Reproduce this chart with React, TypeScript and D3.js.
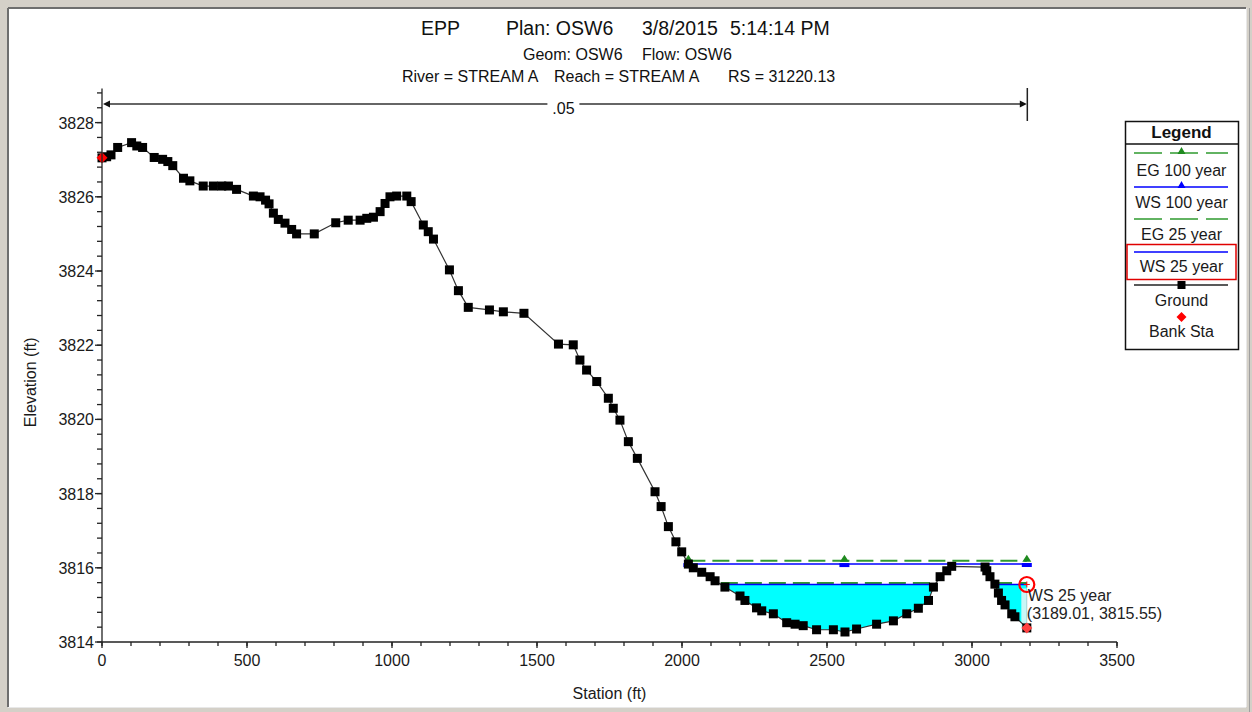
import React from 'react';
import * as d3 from 'd3';

// ---------- data ----------
const titleMain = ['EPP', 'Plan: OSW6', '3/8/2015', '5:14:14 PM'];
const titleSub = ['Geom: OSW6', 'Flow: OSW6'];
const titleRiver = ['River = STREAM A', 'Reach = STREAM A', 'RS = 31220.13'];
const manningLabel = '.05';

// ground profile: [station (ft), elevation (ft)]
const groundPoints: [number, number][] = [
  [0, 3827.05], [16, 3827.08], [31, 3827.13], [54, 3827.33], [102, 3827.46],
  [120, 3827.37], [140, 3827.33], [180, 3827.06], [209, 3827.01], [227, 3826.95],
  [244, 3826.84], [281, 3826.5], [303, 3826.43], [349, 3826.29], [384, 3826.29],
  [413, 3826.29], [436, 3826.29], [464, 3826.2], [522, 3826.02], [545, 3826.0],
  [564, 3825.91], [576, 3825.81], [591, 3825.56], [608, 3825.39], [631, 3825.29],
  [654, 3825.12], [671, 3825.0], [732, 3825.0], [806, 3825.3], [849, 3825.37],
  [890, 3825.37], [913, 3825.42], [936, 3825.45], [959, 3825.6], [976, 3825.82],
  [993, 3826.0], [1016, 3826.02], [1051, 3826.02], [1066, 3825.87], [1108, 3825.24],
  [1125, 3825.06], [1143, 3824.86], [1198, 3824.03], [1229, 3823.47], [1263, 3823.02],
  [1336, 3822.95], [1384, 3822.9], [1455, 3822.86], [1574, 3822.03], [1625, 3822.01],
  [1648, 3821.6], [1671, 3821.33], [1706, 3821.02], [1746, 3820.57], [1763, 3820.3],
  [1786, 3819.98], [1815, 3819.4], [1846, 3818.95], [1907, 3818.05], [1928, 3817.65],
  [1953, 3817.11], [1979, 3816.7], [1999, 3816.43], [2022, 3816.1], [2039, 3816.0],
  [2068, 3815.88], [2097, 3815.76], [2114, 3815.65], [2148, 3815.48], [2200, 3815.24],
  [2217, 3815.12], [2257, 3814.92], [2275, 3814.84], [2315, 3814.76], [2361, 3814.52],
  [2390, 3814.48], [2418, 3814.44], [2464, 3814.33], [2522, 3814.33], [2562, 3814.27],
  [2602, 3814.35], [2671, 3814.48], [2729, 3814.57], [2775, 3814.76], [2815, 3814.91],
  [2850, 3815.12], [2867, 3815.48], [2890, 3815.76], [2913, 3815.92], [2930, 3816.04],
  [3045, 3816.02], [3051, 3815.92], [3062, 3815.76], [3079, 3815.56], [3091, 3815.32],
  [3102, 3815.12], [3114, 3815.0], [3137, 3814.76], [3148, 3814.68], [3189.01, 3814.38],
];

const bankStations: [number, number][] = [[0, 3827.05], [3189.01, 3814.38]];

const wsLevels = { ws100: 3816.1, eg100: 3816.19, ws25: 3815.55, eg25: 3815.59 };
const profileMarkerStations = [2560];

const selectedPoint: [number, number] = [3189.01, 3815.55];
const selectedLabel = 'WS 25 year';

const xTicks = [0, 500, 1000, 1500, 2000, 2500, 3000, 3500];
const yTicks = [3814, 3816, 3818, 3820, 3822, 3824, 3826, 3828];
const xTitle = 'Station (ft)';
const yTitle = 'Elevation (ft)';

const legendLabels = ['EG 100 year', 'WS 100 year', 'EG 25 year', 'WS 25 year', 'Ground', 'Bank Sta'];

// ---------- helpers ----------
function groundAt(s: number): number {
  for (let i = 1; i < groundPoints.length; i++) {
    const [s0, e0] = groundPoints[i - 1];
    const [s1, e1] = groundPoints[i];
    if (s >= s0 && s <= s1) {
      const t = s1 === s0 ? 0 : (s - s0) / (s1 - s0);
      return e0 + t * (e1 - e0);
    }
  }
  return groundPoints[groundPoints.length - 1][1];
}

function wetIntervals(level: number): [number, number][] {
  const res: [number, number][] = [];
  let start: number | null = groundPoints[0][1] < level ? groundPoints[0][0] : null;
  for (let i = 1; i < groundPoints.length; i++) {
    const [ps, pe] = groundPoints[i - 1];
    const [s, e] = groundPoints[i];
    if ((pe >= level) !== (e >= level)) {
      const t = (level - pe) / (e - pe);
      const cs = ps + t * (s - ps);
      if (e < level) start = cs;
      else if (start !== null) {
        res.push([start, cs]);
        start = null;
      }
    }
  }
  if (start !== null) res.push([start, groundPoints[groundPoints.length - 1][0]]);
  return res;
}

const FONT = '"Liberation Sans", Arial, Helvetica, sans-serif';
const GREEN = '#2f9a2f';
const BLUE = '#0000ff';

export default function App() {
  const W = 1252;
  const H = 712;
  const x = d3.scaleLinear().domain([0, 3500]).range([102, 1117]);
  const y = d3.scaleLinear().domain([3814, 3828]).range([642, 122.6]);

  const groundLine = d3
    .line<[number, number]>()
    .x((d) => x(d[0]))
    .y((d) => y(d[1]))(groundPoints) as string;

  // water polygons for WS 25
  const ws25Int = wetIntervals(wsLevels.ws25);
  const waterPolys = ws25Int.map(([a, b]) => {
    const inner = groundPoints.filter((p) => p[0] > a && p[0] < b);
    const bottom: [number, number][] = [[a, groundAt(a)], ...inner, [b, groundAt(b)]];
    const pts: [number, number][] = [
      [a, wsLevels.ws25],
      [b, wsLevels.ws25],
      ...bottom.slice().reverse(),
    ];
    return d3.line<[number, number]>().x((d) => x(d[0])).y((d) => y(d[1]))(pts) + 'Z';
  });

  const ws100Int = wetIntervals(wsLevels.ws100);
  const ws100Start = ws100Int.length ? ws100Int[0][0] : 0;
  const ws100End = ws100Int.length ? ws100Int[ws100Int.length - 1][1] : 0;
  const markerStations = [ws100Start, ...profileMarkerStations, ws100End];

  const yMinor = d3.range(3814, 3828.81, 0.4);
  const xMinor = d3.range(0, 3500.1, 100);
  const axisTop = 3828.92;

  const tri = (cx: number, cy: number, w: number, h: number) =>
    `M${cx - w / 2},${cy}L${cx + w / 2},${cy}L${cx},${cy - h}Z`;
  const diamond = (cx: number, cy: number, r: number) =>
    `M${cx},${cy - r}L${cx + r},${cy}L${cx},${cy + r}L${cx - r},${cy}Z`;

  const arrowY = 104;
  const arrowX0 = x(0);
  const arrowX1 = x(selectedPoint[0]);
  const arrowMid = (arrowX0 + arrowX1) / 2;

  // legend layout
  const lgX0 = 1125;
  const lgX1 = 1238;
  const lgCx = (lgX0 + lgX1) / 2;
  const lgRows = [153, 187, 219, 252, 285, 317];
  const lgText = [176, 208, 240, 272, 306, 337];

  const selX = x(selectedPoint[0]);
  const selY = y(selectedPoint[1]);
  const bankEndY = y(bankStations[1][1]);

  return (
    <svg
      width={W}
      height={H}
      style={{ position: 'absolute', left: 0, top: 0, display: 'block' }}
      fontFamily={FONT}
    >
      {/* window frame */}
      <rect x={0} y={0} width={W} height={H} fill="#d4d0c8" />
      <rect x={8} y={8} width={1238} height={699} fill="#ffffff" />
      <line x1={8} y1={8} x2={1246} y2={8} stroke="#6e6e6e" strokeWidth={2} />
      <line x1={8} y1={8} x2={8} y2={707} stroke="#6e6e6e" strokeWidth={2} />
      <line x1={1246.5} y1={8} x2={1246.5} y2={707} stroke="#e8e8e8" strokeWidth={1} />
      <line x1={1249.5} y1={8} x2={1249.5} y2={712} stroke="#a0a0a0" strokeWidth={1} />
      <line x1={8} y1={707.5} x2={1246} y2={707.5} stroke="#e8e8e8" strokeWidth={1} />

      {/* titles */}
      <g fill="#111" fontSize={19.5}>
        <text x={421} y={35}>{titleMain[0]}</text>
        <text x={506} y={35}>{titleMain[1]}</text>
        <text x={642} y={35}>{titleMain[2]}</text>
        <text x={730} y={35}>{titleMain[3]}</text>
      </g>
      <g fill="#111" fontSize={16}>
        <text x={523} y={59.5}>{titleSub[0]}</text>
        <text x={642} y={59.5}>{titleSub[1]}</text>
        <text x={402} y={82}>{titleRiver[0]}</text>
        <text x={554} y={82}>{titleRiver[1]}</text>
        <text x={728} y={82}>{titleRiver[2]}</text>
      </g>

      {/* Manning's n arrow */}
      <line x1={arrowX0 + 4} y1={arrowY} x2={arrowMid - 17} y2={arrowY} stroke="#333" strokeWidth={1.3} />
      <line x1={arrowMid + 15} y1={arrowY} x2={arrowX1 - 4} y2={arrowY} stroke="#333" strokeWidth={1.3} />
      <path d={`M${arrowX0 + 1},${arrowY}L${arrowX0 + 8},${arrowY - 3.5}L${arrowX0 + 8},${arrowY + 3.5}Z`} fill="#111" />
      <path d={`M${arrowX1},${arrowY}L${arrowX1 - 7},${arrowY - 3.5}L${arrowX1 - 7},${arrowY + 3.5}Z`} fill="#111" />
      <line x1={arrowX1 + 0.5} y1={88} x2={arrowX1 + 0.5} y2={121} stroke="#222" strokeWidth={1.5} />
      <text x={arrowMid - 1} y={114} fontSize={16} textAnchor="middle" fill="#111">{manningLabel}</text>

      {/* water fill WS 25 */}
      {waterPolys.map((d, i) => (
        <path key={i} d={d} fill="#00ffff" stroke="none" />
      ))}
      {/* highlight band at selected station */}
      <line x1={selX - 3} y1={selY + 4} x2={selX - 3} y2={bankEndY} stroke="#c8f6f6" strokeWidth={5} />
      <line x1={selX} y1={selY + 6} x2={selX} y2={bankEndY} stroke="#d0d0d0" strokeWidth={1} />

      {/* EG 100 / WS 100 */}
      <line x1={x(ws100Start)} y1={y(wsLevels.eg100)} x2={x(ws100End)} y2={y(wsLevels.eg100)} stroke={GREEN} strokeWidth={2} strokeDasharray="17,7" />
      <line x1={x(ws100Start)} y1={y(wsLevels.ws100)} x2={x(ws100End)} y2={y(wsLevels.ws100)} stroke={BLUE} strokeWidth={1.5} />
      {markerStations.map((s, i) => (
        <g key={i}>
          <path d={tri(x(s), y(wsLevels.eg100) + 1, 9, 7)} fill="#1f8a1f" />
          <path d={`M${x(s) - 5},${y(wsLevels.ws100) - 1}h10v4h-10Z`} fill={BLUE} />
        </g>
      ))}

      {/* EG 25 / WS 25 */}
      {ws25Int.map(([a, b], i) => (
        <g key={i}>
          <line x1={x(a)} y1={y(wsLevels.eg25)} x2={x(b)} y2={y(wsLevels.eg25)} stroke={GREEN} strokeWidth={2} strokeDasharray="17,7" />
          <line x1={x(a)} y1={y(wsLevels.ws25)} x2={x(b)} y2={y(wsLevels.ws25)} stroke={BLUE} strokeWidth={1.5} />
        </g>
      ))}

      {/* ground */}
      <path d={groundLine} fill="none" stroke="#333" strokeWidth={1.2} />
      {groundPoints.map((p, i) => (
        <rect key={i} x={x(p[0]) - 4.5} y={y(p[1]) - 4.5} width={9} height={9} fill="#000" />
      ))}
      {bankStations.map((p, i) => (
        <path key={i} d={diamond(x(p[0]), y(p[1]), 5.5)} fill={i === 0 ? '#ff0000' : '#ff4040'} />
      ))}

      {/* axes */}
      <g stroke="#222" strokeWidth={1.3}>
        <line x1={x(0)} y1={y(3814)} x2={x(0)} y2={y(axisTop)} />
        <line x1={x(0)} y1={y(3814)} x2={x(3500)} y2={y(3814)} />
        {yMinor.map((v, i) => (
          <line key={'ym' + i} x1={x(0) - 5} y1={y(v)} x2={x(0)} y2={y(v)} />
        ))}
        {yTicks.map((v) => (
          <line key={'yt' + v} x1={x(0) - 7} y1={y(v)} x2={x(0)} y2={y(v)} />
        ))}
        {xMinor.map((v, i) => (
          <line key={'xm' + i} x1={x(v)} y1={y(3814)} x2={x(v)} y2={y(3814) + 4} />
        ))}
        {xTicks.map((v) => (
          <line key={'xt' + v} x1={x(v)} y1={y(3814)} x2={x(v)} y2={y(3814) + 6} />
        ))}
      </g>
      <g fontSize={16} fill="#1a1a1a">
        {yTicks.map((v) => (
          <text key={'yl' + v} x={x(0) - 8} y={y(v) + 6} textAnchor="end">{v}</text>
        ))}
        {xTicks.map((v) => (
          <text key={'xl' + v} x={x(v)} y={y(3814) + 24} textAnchor="middle">{v}</text>
        ))}
        <text x={(x(0) + x(3500)) / 2} y={699} textAnchor="middle">{xTitle}</text>
        <text transform={`translate(36,${(y(3814) + y(3828)) / 2}) rotate(-90)`} textAnchor="middle">{yTitle}</text>
      </g>

      {/* selected point annotation */}
      <circle cx={selX} cy={selY} r={7.5} fill="none" stroke="#ff0000" strokeWidth={2.2} />
      <path d={`M${selX - 3},${selY}h6M${selX},${selY - 3}v6`} stroke="#ff0000" strokeWidth={1} />
      <text x={selX + 1} y={601} fontSize={16} fill="#222">{selectedLabel}</text>
      <text x={selX} y={619} fontSize={16} fill="#222">({selectedPoint[0].toFixed(2)}, {selectedPoint[1].toFixed(2)})</text>

      {/* legend */}
      <rect x={lgX0 + 0.5} y={121.5} width={lgX1 - lgX0} height={228} fill="#fff" stroke="#111" strokeWidth={1.5} />
      <line x1={lgX0} y1={144} x2={lgX1} y2={144} stroke="#111" strokeWidth={1.5} />
      <text x={lgCx} y={138} fontSize={17} fontWeight="bold" textAnchor="middle" fill="#111">Legend</text>
      <rect x={1127} y={244.5} width={109} height={35} fill="none" stroke="#e00000" strokeWidth={1.5} />
      {/* EG 100 */}
      <line x1={1134} y1={lgRows[0]} x2={1228} y2={lgRows[0]} stroke={GREEN} strokeWidth={1.5} strokeDasharray="28,8" />
      <path d={tri(lgCx, lgRows[0] + 1, 8, 7)} fill="#1f8a1f" />
      {/* WS 100 */}
      <line x1={1134} y1={lgRows[1]} x2={1228} y2={lgRows[1]} stroke={BLUE} strokeWidth={1.3} />
      <path d={tri(lgCx, lgRows[1] + 1, 8, 7)} fill={BLUE} />
      {/* EG 25 */}
      <line x1={1134} y1={lgRows[2]} x2={1228} y2={lgRows[2]} stroke={GREEN} strokeWidth={1.5} strokeDasharray="28,8" />
      {/* WS 25 */}
      <line x1={1134} y1={lgRows[3]} x2={1228} y2={lgRows[3]} stroke={BLUE} strokeWidth={1.3} />
      {/* Ground */}
      <line x1={1134} y1={lgRows[4]} x2={1228} y2={lgRows[4]} stroke="#222" strokeWidth={1.3} />
      <rect x={lgCx - 4} y={lgRows[4] - 4} width={8} height={8} fill="#000" />
      {/* Bank Sta */}
      <path d={diamond(lgCx, lgRows[5], 5)} fill="#ff0000" />
      <g fontSize={16} fill="#1a1a1a" textAnchor="middle">
        {legendLabels.map((l, i) => (
          <text key={l} x={lgCx} y={lgText[i]}>{l}</text>
        ))}
      </g>
    </svg>
  );
}
